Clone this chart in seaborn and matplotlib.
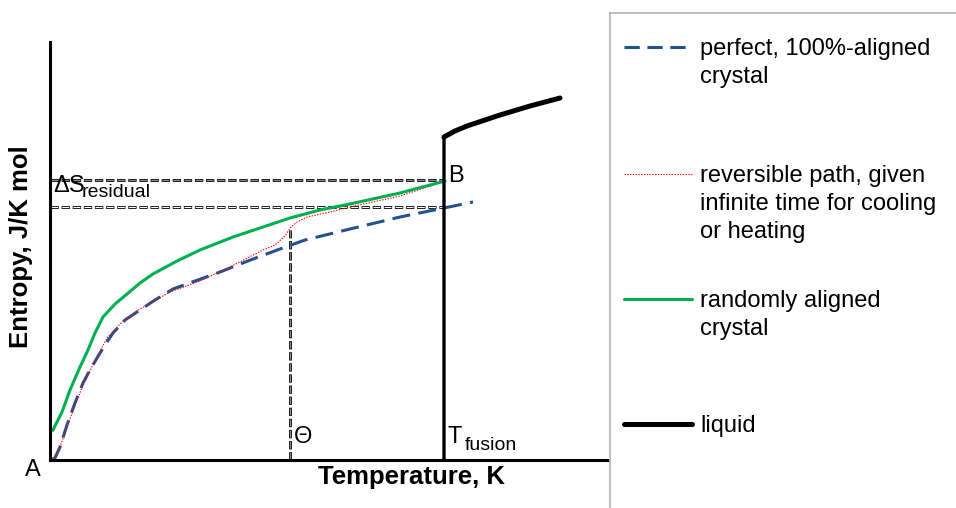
import seaborn as sns
import matplotlib.pyplot as plt

# entropy vs temperature sketch (arbitrary units)
perfect_T = [1, 5, 10, 17, 25, 33, 40, 47, 55, 63, 75, 90, 105, 123, 145, 170, 203, 230, 255, 300, 350, 394, 423]
perfect_S = [0, 2, 13, 35, 57, 77, 90, 102, 115, 127, 140, 150, 160, 171, 179, 188, 201, 211, 220, 231, 243, 252, 258]

reversible_T = [0, 3, 10, 18, 26, 33, 48, 57, 70, 90, 120, 150, 180, 213, 225, 235, 240, 247, 257, 280, 300, 350, 393]
reversible_S = [0, 1, 13, 36, 57, 75, 105, 122, 136, 151, 168, 179, 193, 210, 215, 224, 232, 238, 243, 248, 253, 264, 278]

random_T = [0, 0, 3, 7, 12, 20, 30, 38, 45, 53, 65, 77, 90, 103, 127, 150, 183, 210, 240, 270, 300, 350, 395]
random_S = [0, 28, 30, 38, 48, 70, 93, 110, 127, 143, 156, 166, 177, 186, 199, 210, 223, 232, 242, 250, 256, 267, 279]

liquid_T = [394, 394, 405, 417, 450, 480, 510]
liquid_S = [0, 323, 329, 334, 345, 354, 362]

T_fusion = 394
theta_T = 240
theta_S = 230
S_upper = 280
S_lower = 253

legend_labels = ["perfect, 100%-aligned\ncrystal",
                 "reversible path, given\ninfinite time for cooling\nor heating",
                 "randomly aligned\ncrystal",
                 "liquid"]

sns.set_theme(style="white")
plt.rcParams["font.family"] = ["Liberation Sans", "DejaVu Sans"]
plt.rcParams["lines.scale_dashes"] = False
plt.rcParams["text.color"] = "black"
plt.rcParams["axes.labelcolor"] = "black"

blue = "#24528f"
green = "#00b050"
red = "#ff0000"
fs = 17
fs_sub = 14
fs_bold = 18.5

fig = plt.figure(figsize=(9.56, 5.08), dpi=100)
ax = fig.add_axes([50 / 956, 48 / 508, 560 / 956, 418 / 508])
ax.set_xlim(0, 560)
ax.set_ylim(0, 418)


def framed_dash(xs, ys, fill):
    ax.plot(xs, ys, color="black", lw=2.0, linestyle=(0, (6, 2)), solid_capstyle="butt")
    ax.plot(xs, ys, color=fill, lw=0.8, linestyle=(-0.5, (5.0, 3.0)))


framed_dash([0, T_fusion], [S_upper, S_upper], "#8c8c8c")
framed_dash([0, T_fusion], [S_lower, S_lower], "white")
framed_dash([theta_T, theta_T], [0, theta_S], "#8c8c8c")

sns.lineplot(x=perfect_T, y=perfect_S, sort=False, estimator=None, ax=ax,
             color=blue, lw=2.2)
ax.lines[-1].set_dashes((13, 6))
sns.lineplot(x=reversible_T, y=reversible_S, sort=False, estimator=None, ax=ax,
             color=red, lw=0.8)
ax.lines[-1].set_dashes((1, 1))
sns.lineplot(x=random_T, y=random_S, sort=False, estimator=None, ax=ax,
             color=green, lw=2.2)
sns.lineplot(x=liquid_T, y=liquid_S, sort=False, estimator=None, ax=ax,
             color="black", lw=2.4)
sns.lineplot(x=liquid_T[1:], y=liquid_S[1:], sort=False, estimator=None, ax=ax,
             color="black", lw=3.6)
ax.lines[-1].set_solid_capstyle("round")

for side in ["top", "right"]:
    ax.spines[side].set_visible(False)
for side in ["left", "bottom"]:
    ax.spines[side].set_color("black")
    ax.spines[side].set_linewidth(2.2)
ax.set_xticks([])
ax.set_yticks([])

ax.text(-17, -10, "A", fontsize=fs, ha="center", va="center", clip_on=False)
ax.text(T_fusion + 4, S_upper + 4, "B", fontsize=fs, ha="left", va="center")
ax.text(3, S_upper - 12, "\u0394S", fontsize=fs, ha="left", va="baseline")
ax.text(32, S_upper - 17, "residual", fontsize=fs_sub, ha="left", va="baseline")
ax.text(theta_T + 4, 23, "\u0398", fontsize=fs, ha="left", va="center")
ax.text(T_fusion + 3, 17, "T", fontsize=fs, ha="left", va="baseline")
ax.text(T_fusion + 21, 10, "fusion", fontsize=fs_sub, ha="left", va="baseline")

ax.set_xlabel("Temperature, K", fontsize=fs_bold, fontweight="bold")
ax.xaxis.set_label_coords((412 - 50) / 560, -0.012)
ax.xaxis.label.set_va("top")
ax.set_ylabel("Entropy, J/K mol", fontsize=fs_bold, fontweight="bold")
ax.yaxis.set_label_coords(-0.052, (460 - 247) / 418)
ax.yaxis.label.set_va("center")

# legend panel drawn by hand so the handles line up with first text line
lg = fig.add_axes([610 / 956, 0, 346 / 956, 495 / 508])
lg.set_xlim(610, 956)
lg.set_ylim(508, 13)
lg.set_xticks([])
lg.set_yticks([])
for side in ["right", "bottom"]:
    lg.spines[side].set_visible(False)
for side in ["left", "top"]:
    lg.spines[side].set_color("#b4b4b4")
    lg.spines[side].set_linewidth(1.2)

rows = [47, 174, 299, 424]
styles = [dict(color=blue, lw=2.2, dashes=(11, 5.5)),
          dict(color=red, lw=0.8, dashes=(1, 1)),
          dict(color=green, lw=2.2),
          dict(color="black", lw=3.6, solid_capstyle="round")]
for y, label, st in zip(rows, legend_labels, styles):
    lg.plot([624, 692], [y, y], **st)
    lg.text(700, y - 9, label, fontsize=fs, ha="left", va="top", linespacing=1.35)

fig.savefig("out.png", dpi=100)
